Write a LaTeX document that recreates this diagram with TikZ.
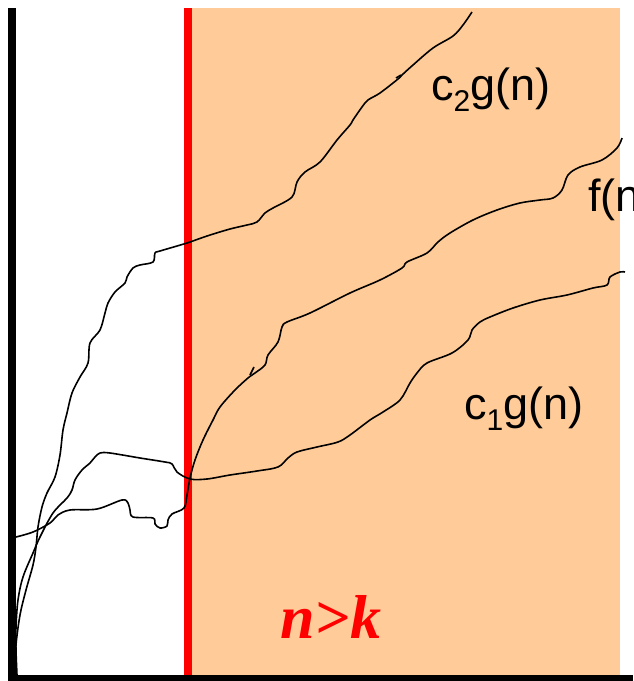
\documentclass[tikz,border=0pt]{standalone}
\usepackage{fontspec}
\setmainfont{Liberation Sans}
\newfontfamily\timesbi{Liberation Serif}
\usepackage{tikz}
\definecolor{peach}{RGB}{255,204,153}
\def\sub#1{\raisebox{-0.25em}{\fontsize{30}{30}\selectfont #1}}

\begin{document}
\begin{tikzpicture}[x=1pt,y=-1pt,
    curve/.style={black,line width=1.6pt,line join=round},
    lbl/.style={inner sep=0pt,anchor=base west,font=\fontsize{45}{45}\selectfont}]
  \useasboundingbox (0,0) rectangle (633,681);
  \fill[peach] (190,8) rectangle (620,676);
  \draw[red,line width=8pt] (188,8) -- (188,676);

  \draw[curve] plot[smooth,tension=0.55] coordinates {
    (472,12) (463,25) (453,36) (433,48) (413,65) (402,75) (398,79) (380,93)
    (368,100) (362,107) (353,120) (350,125) (337,140) (320,162) (305,172)
    (297,182) (292,197) (273,208) (265,213) (257,222) (247,225) (230,229)
    (207,236) (187,243) (160,251) (155,253) (153,262) (140,265) (133,268)
    (127,277) (125,283) (115,292) (108,303) (105,313) (100,330) (90,343)
    (88,363) (80,377) (72,393) (67,413) (63,430) (60,455) (55,477) (47,493)
    (42,507) (38,527) (36,547) (33,565) (26,590) (20,615) (16,645) (15,672)};
  \draw[curve] (396,78) -- (401,75);

  \draw[curve] plot[smooth,tension=0.55] coordinates {
    (16,537) (33,532) (50,523) (58,515) (70,510) (97,509) (122,500) (128,503)
    (130,510) (133,517) (153,518) (155,524) (160,528) (167,526) (168,520)
    (172,514) (184,508) (187,495) (190,478) (195,460) (203,440) (213,420)
    (220,407) (235,390) (248,378) (255,373) (265,365) (268,355) (278,342)
    (282,327) (287,322) (310,313) (350,293) (380,280) (402,268) (407,262)
    (427,253) (438,242) (450,233) (473,220) (497,210) (520,203) (540,200)
    (553,198) (562,190) (568,175) (580,167) (602,160) (617,148) (622,138)};
  \draw[curve] (250,375) -- (254,367);

  \draw[curve] plot[smooth,tension=0.55] coordinates {
    (17,675) (16,650) (16,627) (18,600) (23,577) (33,553) (40,537) (53,513)
    (67,498) (72,490) (75,480) (82,470) (90,463) (95,457) (100,453) (110,453)
    (140,458) (165,462) (172,464) (177,472) (190,479) (207,479) (230,475)
    (257,471) (278,467) (288,458) (297,452) (317,447) (338,442) (350,435)
    (370,420) (383,412) (400,400) (410,383) (417,373) (427,363) (452,353)
    (468,340) (472,330) (480,322) (490,317) (513,308) (540,300) (567,295)
    (593,288) (607,285) (610,277) (620,272) (625,272)};

  \fill (8,8) rectangle (16,681);
  \fill (12,675) rectangle (633,681);

  \node[lbl] (c2g) at (431,100) {c\sub{2}g(n)};
  \node[lbl] (fn) at (588,211) {f(n)};
  \node[lbl] (c1g) at (464,419) {c\sub{1}g(n)};
  \node[inner sep=0pt,anchor=base west,red,font=\fontsize{62}{62}\timesbi\bfseries\itshape]
    (nk) at (280,638) {n>k};
\end{tikzpicture}
\end{document}
